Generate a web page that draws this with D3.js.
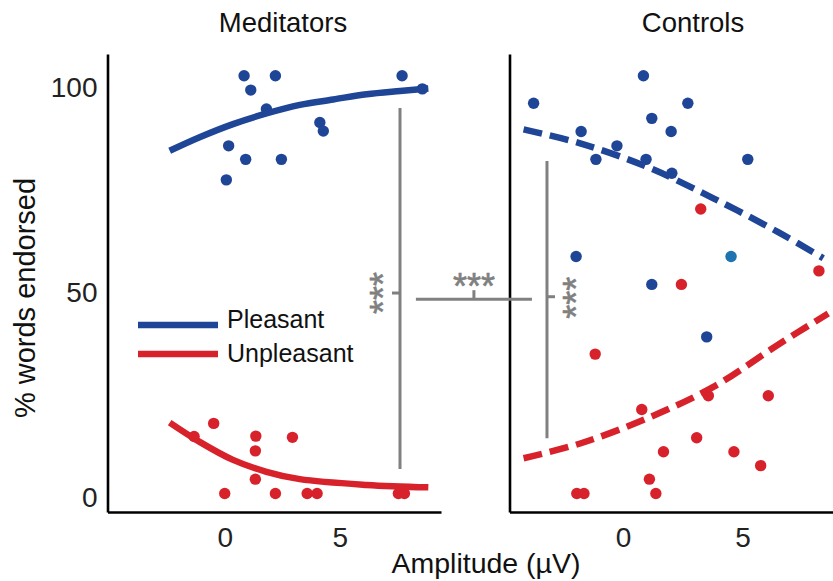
<!DOCTYPE html>
<html>
<head>
<meta charset="utf-8">
<script src="https://cdn.jsdelivr.net/npm/d3@7"></script>
<style>
    body { margin: 0; background: #fff; }
    text { font-family: "Liberation Sans", Arial, Helvetica, sans-serif; }
</style>
</head>
<body>
<div id="chart"></div>
<script>
// ---- data (x = amplitude in uV, y = % words endorsed) ----
const panelTitles = ["Meditators", "Controls"];
const yTicks = [0, 50, 100];
const xTicks = [0, 5];

const medPleasant = [[0.84, 103], [2.2, 103], [7.7, 103], [1.13, 99.5], [1.81, 94.9], [8.58, 99.8],
    [4.13, 91.6], [4.28, 89.5], [0.17, 85.9], [0.91, 82.6], [2.46, 82.6], [0.07, 77.6]];
const medUnpleasant = [[-0.48, 18.2], [-1.33, 15], [1.35, 15.1], [2.94, 14.8], [1.33, 11.5], [1.33, 4.6],
    [0, 1.1], [2.2, 1.1], [3.58, 1.1], [4.01, 1.1], [7.54, 1.1], [7.8, 1.1]];
const ctrlPleasant = [[0.85, 103], [-3.75, 96.3], [2.71, 96.3], [1.2, 92.6], [-1.76, 89.4], [2.01, 89.4],
    [-0.26, 85.9], [-1.14, 82.6], [0.96, 82.6], [5.22, 82.6], [2.04, 79.2], [-1.97, 58.9],
    [4.52, 58.9], [1.2, 52.1], [3.5, 39.3]];
const ctrlUnpleasant = [[3.25, 70.5], [8.2, 55.4], [2.44, 52.1], [-1.17, 35.1], [6.08, 24.95], [3.57, 24.95],
    [0.78, 21.6], [3.08, 14.7], [1.69, 11.3], [4.64, 11.3], [5.76, 7.9], [1.1, 4.6],
    [-1.94, 1.1], [-1.64, 1.1], [1.37, 1.1]];

// fitted curves
const medPleasantFit = [[-2.39, 84.7], [-1.09, 88.0], [0.36, 91.2], [1.81, 93.8], [3.26, 95.9],
    [4.71, 97.2], [6.16, 98.5], [7.61, 99.3], [8.84, 99.9]];
const medUnpleasantFit = [[-2.39, 18.4], [-1.09, 13.7], [0.36, 9.3], [1.81, 6.4], [3.26, 4.6],
    [6.16, 3.2], [8.84, 2.6]];
const ctrlPleasantFit = [[-4.17, 89.9], [-1.8, 86.5], [0.99, 80.8], [3.78, 73.1], [6.57, 64.6], [8.38, 58.5]];
const ctrlUnpleasantFit = [[-4.17, 9.7], [-1.8, 13.3], [0.99, 19.4], [3.78, 27.1], [6.57, 37.7], [8.59, 45.0]];

const legendLabels = ["Pleasant", "Unpleasant"];

const BLUE = "#1f4597";
const RED = "#d8222b";
const GREY = "#808080";

const width = 833, height = 581;

const svg = d3.select("#chart").append("svg")
    .attr("width", width)
    .attr("height", height);

// shared y scale
const yScale = d3.scaleLinear()
    .domain([-3.41, 108.3])
    .range([512, 54]);

// one x scale per panel
const xLeft = d3.scaleLinear().domain([-5.09, 9.39]).range([107.5, 441]);
const xRight = d3.scaleLinear().domain([-4.76, 8.79]).range([509.5, 833]);

function drawPanel(xScale, title, pleasant, unpleasant, pleasantFit, unpleasantFit, dashed, showYLabels) {
    let g = svg.append("g");

    // x axis
    let xAxis = g.append("g")
        .attr("transform", "translate(0," + yScale.range()[0] + ")")
        .call(d3.axisBottom(xScale).tickValues(xTicks).tickSize(0).tickSizeOuter(0).tickPadding(15));

    // y axis
    let yAxis = g.append("g")
        .attr("transform", "translate(" + xScale.range()[0] + ",0)")
        .call(d3.axisLeft(yScale).tickValues(showYLabels ? yTicks : []).tickSize(0).tickSizeOuter(0).tickPadding(10));

    [xAxis, yAxis].forEach(a => {
        a.select(".domain").attr("stroke", "#000").attr("stroke-width", 2.6);
        a.selectAll("text").attr("font-size", 28).attr("fill", "#222")
            .style("font-family", "'Liberation Sans', Arial, sans-serif");
    });

    // title
    g.append("text")
        .attr("x", title === "Meditators" ? 283 : 693)
        .attr("y", 32)
        .attr("text-anchor", "middle")
        .attr("font-size", 27.5)
        .attr("fill", "#111")
        .text(title);

    // points
    g.selectAll(".pt-pleasant")
        .data(pleasant)
        .enter().append("circle")
        .attr("cx", d => xScale(d[0]))
        .attr("cy", d => yScale(d[1]))
        .attr("r", 5.7)
        .attr("fill", (d, i) => (dashed && i === 12) ? "#1d74b0" : BLUE);

    g.selectAll(".pt-unpleasant")
        .data(unpleasant)
        .enter().append("circle")
        .attr("cx", d => xScale(d[0]))
        .attr("cy", d => yScale(d[1]))
        .attr("r", 5.7)
        .attr("fill", RED);

    // fit lines
    let line = d3.line()
        .x(d => xScale(d[0]))
        .y(d => yScale(d[1]))
        .curve(d3.curveCatmullRom);

    [[pleasantFit, BLUE], [unpleasantFit, RED]].forEach(([pts, col]) => {
        g.append("path")
            .attr("d", line(pts))
            .attr("fill", "none")
            .attr("stroke", col)
            .attr("stroke-width", 6.5)
            .attr("stroke-dasharray", dashed ? "19,8" : null);
    });
}

drawPanel(xLeft, panelTitles[0], medPleasant, medUnpleasant, medPleasantFit, medUnpleasantFit, false, true);
drawPanel(xRight, panelTitles[1], ctrlPleasant, ctrlUnpleasant, ctrlPleasantFit, ctrlUnpleasantFit, true, false);

// axis labels
svg.append("text")
    .attr("x", 486)
    .attr("y", 573)
    .attr("text-anchor", "middle")
    .attr("font-size", 28.5)
    .attr("fill", "#111")
    .text("Amplitude (µV)");

svg.append("text")
    .attr("transform", "translate(35,298) rotate(-90)")
    .attr("text-anchor", "middle")
    .attr("font-size", 29)
    .attr("fill", "#111")
    .text("% words endorsed");

// significance brackets
function stars(x, y, rotate) {
    svg.append("text")
        .attr("transform", "translate(" + x + "," + y + ")" + (rotate ? " rotate(-90)" : ""))
        .attr("text-anchor", "middle")
        .attr("dy", "0.58em")
        .attr("font-size", 36)
        .attr("fill", GREY)
        .attr("stroke", GREY)
        .attr("stroke-width", 0.6)
        .text("***");
}

function seg(x1, y1, x2, y2) {
    svg.append("line")
        .attr("x1", x1).attr("y1", y1)
        .attr("x2", x2).attr("y2", y2)
        .attr("stroke", GREY)
        .attr("stroke-width", 3);
}

// within meditators
seg(xLeft(7.61), yScale(95.1), xLeft(7.61), yScale(7.1));
seg(xLeft(7.61) - 8, yScale(50), xLeft(7.61), yScale(50));
stars(xLeft(7.61) - 25, yScale(50), true);

// within controls
seg(xRight(-3.19), yScale(82.2), xRight(-3.19), yScale(14.6));
seg(xRight(-3.19), yScale(49.1), xRight(-3.19) + 8, yScale(49.1));
stars(xRight(-3.19) + 21, yScale(49.1) + 1, true);

// between groups
let hx1 = xLeft(8.3), hx2 = xRight(-3.82), hy = yScale(48.5);
seg(hx1, hy, hx2, hy);
seg((hx1 + hx2) / 2, hy, (hx1 + hx2) / 2, hy - 9);
stars((hx1 + hx2) / 2, hy - 21, false);

// legend
let legend = svg.append("g").attr("transform", "translate(138,325)");
legendLabels.forEach((lab, i) => {
    legend.append("line")
        .attr("x1", 0).attr("x2", 80)
        .attr("y1", i * 29).attr("y2", i * 29)
        .attr("stroke", i === 0 ? BLUE : RED)
        .attr("stroke-width", 6.5);
    legend.append("text")
        .attr("x", 89)
        .attr("y", i * 34 + 3)
        .attr("font-size", 25)
        .attr("fill", "#111")
        .text(lab);
});
</script>
</body>
</html>
